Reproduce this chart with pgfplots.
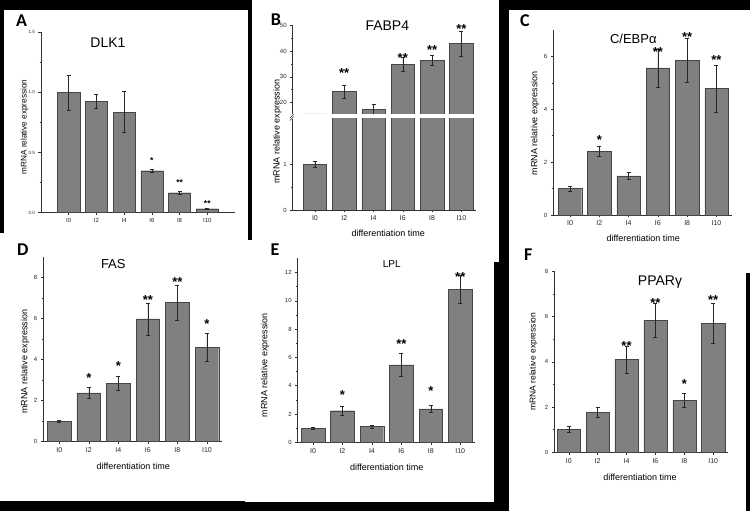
\documentclass[border=0pt]{standalone}
\usepackage{pgfplots}
\pgfplotsset{compat=1.18}
\usepackage{fontspec}
\setmainfont{Liberation Sans}
\newfontfamily\letfont{Carlito}
\definecolor{barc}{RGB}{128,128,128}
\definecolor{barl}{RGB}{70,70,70}
\definecolor{errc}{RGB}{40,40,40}
\definecolor{axc}{RGB}{50,50,50}
\pgfplotsset{
  panel/.style={
    scale only axis, anchor=south west,
    axis x line*=bottom, axis y line*=left,
    axis line style={line width=0.6pt, color=axc},
    tick align=outside, tick style={line width=0.5pt, color=axc},
    major tick length=2.5pt, minor tick length=1.5pt,
    xtick={1,...,6}, xticklabels={I0,I2,I4,I6,I8,I10},
    minor y tick num=1, ymin=0, clip=false,
    xticklabel style={font=\fontsize{7}{8}\selectfont, text=black!85},
    yticklabel style={font=\fontsize{6}{7}\selectfont, text=black!85},
    /pgf/number format/assume math mode=true,
  },
  bars/.style={ybar, bar width=0.8, bar shift=0pt, fill=barc, draw=barl, line width=0.4pt,
    error bars/y dir=both, error bars/y explicit,
    error bars/error bar style={line width=0.5pt, color=errc},
    error bars/error mark options={rotate=90, mark size=2pt, line width=0.5pt, color=errc}},
  stars/.style={only marks, mark=none, point meta=explicit symbolic, nodes near coords,
    nodes near coords style={anchor=center, inner sep=0pt, yshift=-2.8pt,
      font=\bfseries\fontsize{13}{13}\selectfont, text=black}},
}
\begin{document}
\begin{tikzpicture}
\path[use as bounding box] (0pt,0pt) rectangle (750pt,511pt);
\fill[black] (0pt,0pt) rectangle (750pt,511pt);
\fill[white] (4pt,271pt) rectangle (248.3pt,501pt);
\fill[white] (0pt,10pt) rectangle (245pt,278pt);
\fill[white] (251.7pt,249pt) rectangle (499.3pt,511pt);
\fill[white] (245pt,9pt) rectangle (494pt,271pt);
\fill[white] (508.5pt,238pt) rectangle (750pt,501pt);
\fill[white] (509pt,0pt) rectangle (746pt,238pt);

% ---------- A: DLK1
\begin{axis}[panel, at={(41pt,298.3pt)}, width=194pt, height=180.4pt,
  xmin=0, xmax=7, ymin=0, ymax=1.5, ytick={0,0.5,1,1.5},
  /pgf/number format/fixed, /pgf/number format/fixed zerofill, /pgf/number format/precision=1,
  xticklabel style={font=\fontsize{6}{7}\selectfont},
  yticklabel style={font=\fontsize{4.5}{5}\selectfont}]
\addplot[bars] table[x=x,y=y,y error=e]{
x y e
1 1.000 0.145
2 0.925 0.060
3 0.836 0.170
4 0.349 0.012
5 0.166 0.010
6 0.033 0.004
};
\addplot[stars, nodes near coords style={font=\bfseries\fontsize{8.5}{8.5}\selectfont, yshift=-1.8pt}]
  coordinates {(4,0.47)[*] (5,0.29)[**] (6,0.114)[**]};
\end{axis}

% ---------- B: FABP4 (broken axis)
\begin{axis}[panel, at={(292.7pt,301pt)}, width=183.3pt, height=91.4pt,
  xmin=0.24, xmax=6.5, ymin=0, ymax=2, ytick={0,1}, clip=true]
\addplot[bars] table[x=x,y=y,y error=e]{
x y e
1 1.0 0.07
2 24.3 2.5
3 17.3 2.1
4 34.9 2.7
5 36.5 2.0
6 43.0 4.8
};
\end{axis}
\begin{axis}[panel, at={(292.7pt,397pt)}, width=183.3pt, height=88.3pt,
  xmin=0.24, xmax=6.5, ymin=15.5, ymax=50, ytick={20,30,40,50},
  axis x line=none, clip=true]
\addplot[bars] table[x=x,y=y,y error=e]{
x y e
1 1.0 0.07
2 24.3 2.5
3 17.3 2.1
4 34.9 2.7
5 36.5 2.0
6 43.0 4.8
};
\end{axis}
\begin{axis}[panel, at={(292.7pt,397pt)}, width=183.3pt, height=88.3pt,
  xmin=0.24, xmax=6.5, ymin=15.5, ymax=50, axis x line=none, axis y line=none,
  ticks=none, clip=false]
\addplot[stars] coordinates {(2,32.7)[**] (4,38.6)[**] (5,41.4)[**] (6,49.6)[**]};
\end{axis}
\draw[axc, line width=0.5pt] (289.7pt,393pt) -- (293.7pt,397pt);
\draw[axc, line width=0.5pt] (289.7pt,390.5pt) -- (293.7pt,394.5pt);

% ---------- C: C/EBPalpha
\begin{axis}[panel, at={(553.3pt,296pt)}, width=178.4pt, height=185pt,
  xmin=0.43, xmax=6.52, ymin=0, ymax=7, ytick={0,2,4,6}]
\addplot[bars] table[x=x,y=y,y error=e]{
x y e
1 1.00 0.10
2 2.42 0.20
3 1.48 0.12
4 5.57 0.72
5 5.86 0.82
6 4.78 0.88
};
\addplot[stars] coordinates {(2,2.96)[*] (4,6.26)[**] (5,6.83)[**] (6,5.96)[**]};
\end{axis}

% ---------- D: FAS
\begin{axis}[panel, at={(43.3pt,69.3pt)}, width=178.4pt, height=185pt,
  xmin=0.46, xmax=6.5, ymin=0, ymax=9, ytick={0,2,4,6,8}]
\addplot[bars] table[x=x,y=y,y error=e]{
x y e
1 1.00 0.04
2 2.38 0.27
3 2.84 0.35
4 5.97 0.77
5 6.77 0.86
6 4.59 0.67
};
\addplot[stars] coordinates {(2,3.23)[*] (3,3.84)[*] (4,7.01)[**] (5,7.9)[**] (6,5.84)[*]};
\end{axis}

% ---------- E: LPL
\begin{axis}[panel, at={(297.7pt,68.7pt)}, width=177.3pt, height=184pt,
  xmin=0.48, xmax=6.5, ymin=0, ymax=13, ytick={0,2,4,6,8,10,12}]
\addplot[bars] table[x=x,y=y,y error=e]{
x y e
1 1.00 0.06
2 2.23 0.30
3 1.12 0.10
4 5.47 0.80
5 2.37 0.27
6 10.82 1.00
};
\addplot[stars] coordinates {(2,3.52)[*] (4,7.15)[**] (5,3.8)[*] (6,11.9)[**]};
\end{axis}

% ---------- F: PPARgamma
\begin{axis}[panel, at={(554.3pt,58.7pt)}, width=173.4pt, height=181pt,
  xmin=0.5, xmax=6.5, ymin=0, ymax=8, ytick={0,2,4,6,8}]
\addplot[bars] table[x=x,y=y,y error=e]{
x y e
1 1.00 0.13
2 1.78 0.23
3 4.10 0.60
4 5.82 0.75
5 2.31 0.30
6 5.70 0.89
};
\addplot[stars] coordinates {(3,4.82)[**] (4,6.74)[**] (5,3.12)[*] (6,6.86)[**]};
\end{axis}

% ---------- texts
\tikzset{lett/.style={font=\letfont\bfseries\fontsize{18}{18}\selectfont},
  ttl/.style={font=\fontsize{14}{14}\selectfont},
  ylab/.style={rotate=90, font=\fontsize{9}{9}\selectfont},
  xlab/.style={font=\fontsize{9}{9}\selectfont}}
\node[lett] at (21.7pt,490.3pt) {A};
\node[lett] at (276pt,491pt) {B};
\node[lett] at (525pt,490.3pt) {C};
\node[lett] at (22.7pt,261pt) {D};
\node[lett] at (275pt,261.7pt) {E};
\node[lett] at (528.3pt,256pt) {F};
\node[ttl] at (108pt,468.3pt) {DLK1};
\node[ttl] at (387.3pt,485pt) {FABP4};
\node[ttl, font=\fontsize{13}{13}\selectfont] at (633.3pt,471.7pt) {C/EBPα};
\node[ttl, font=\fontsize{13}{13}\selectfont] at (113.3pt,246.7pt) {FAS};
\node[ttl, font=\fontsize{10}{10}\selectfont] at (391.7pt,247pt) {LPL};
\node[ttl] at (660pt,228.7pt) {PPARγ};
\node[ylab, font=\fontsize{8.2}{9}\selectfont] at (24.5pt,384pt) {mRNA relative expression};
\node[ylab] at (277.3pt,379.3pt) {mRNA relative expression};
\node[ylab] at (535pt,387.7pt) {mRNA relative expression};
\node[ylab] at (25pt,149.3pt) {mRNA relative expression};
\node[ylab] at (265pt,146pt) {mRNA relative expression};
\node[ylab, font=\fontsize{8.5}{9}\selectfont] at (533.3pt,149.3pt) {mRNA relative expression};
\node[xlab] at (388.3pt,277.7pt) {differentiation time};
\node[xlab] at (643.3pt,272.7pt) {differentiation time};
\node[xlab] at (133.3pt,45pt) {differentiation time};
\node[xlab] at (386.7pt,43.7pt) {differentiation time};
\node[xlab] at (640pt,33.7pt) {differentiation time};
\end{tikzpicture}
\end{document}
